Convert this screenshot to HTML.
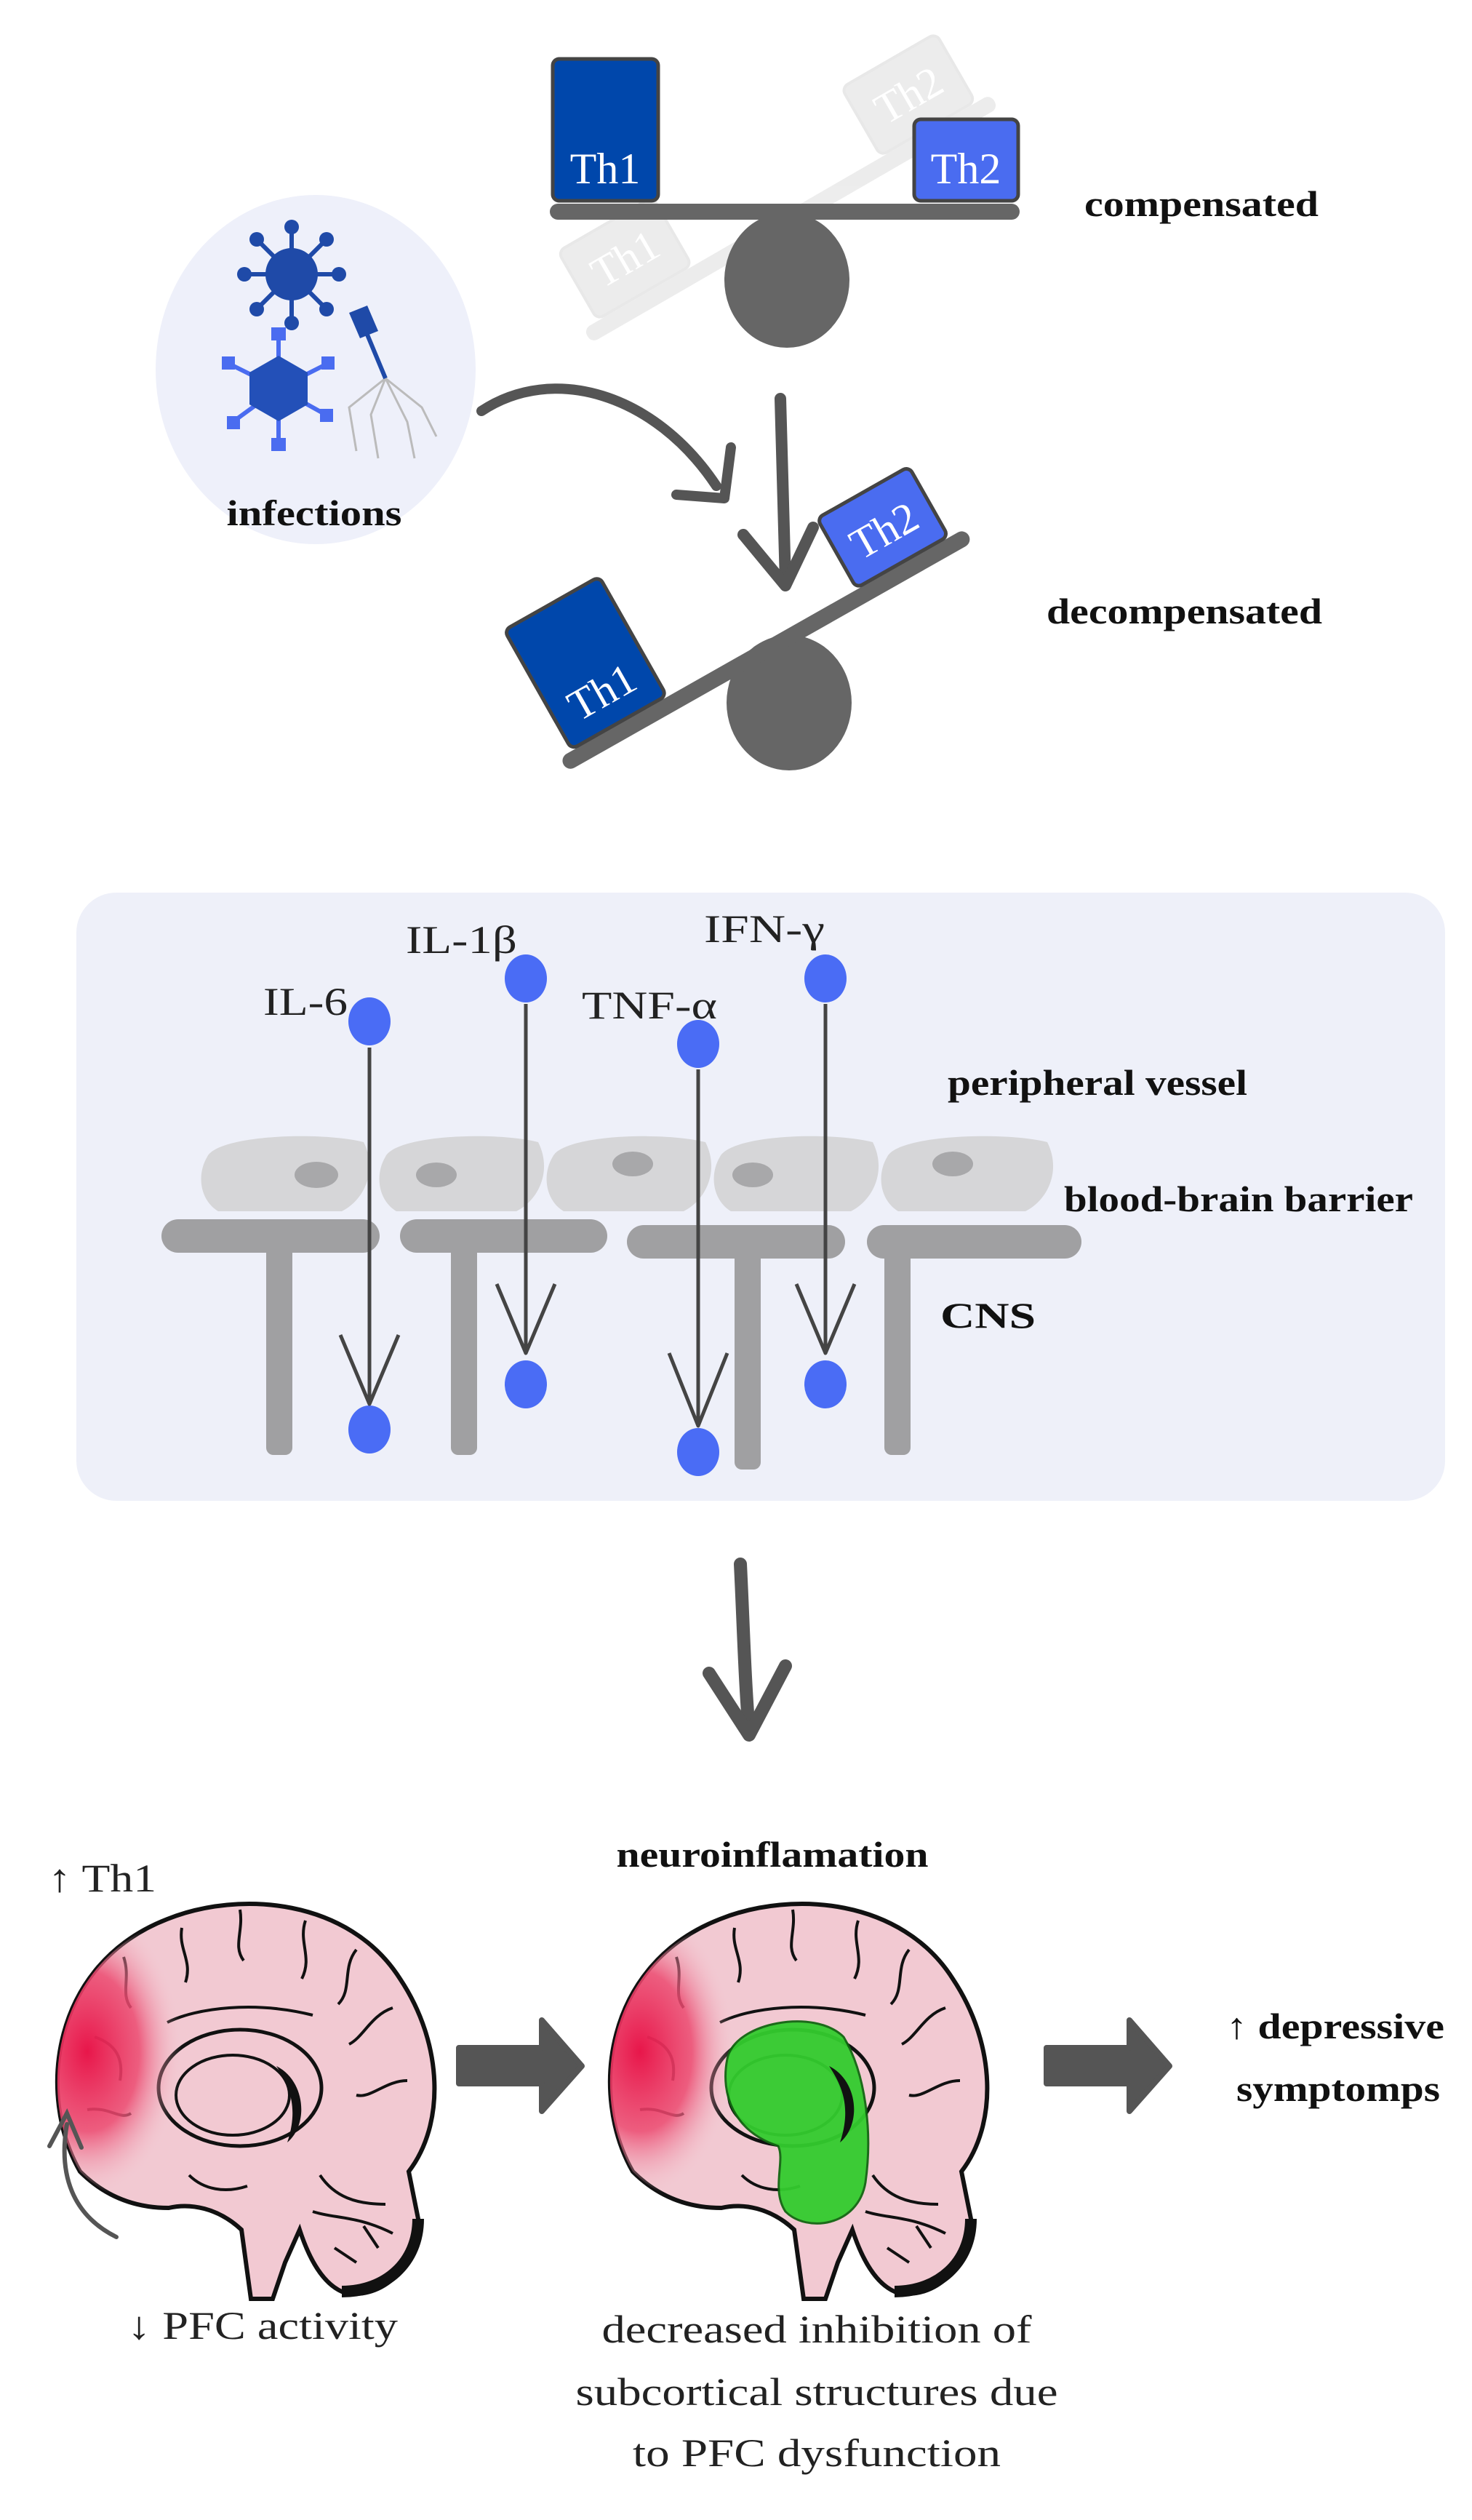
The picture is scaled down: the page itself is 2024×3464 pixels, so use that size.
<!DOCTYPE html>
<html><head><meta charset="utf-8"><style>
html,body{margin:0;padding:0;background:#fff}
svg{display:block}
.b{font-family:"Liberation Serif",serif;font-weight:bold;font-size:50px;fill:#111}
.r{font-family:"Liberation Serif",serif;font-size:54px;fill:#222}
.w{font-family:"Liberation Serif",serif;font-size:60px;fill:#fff}
</style></head><body>
<svg width="2024" height="3464" viewBox="0 0 2024 3464" xmlns="http://www.w3.org/2000/svg">
<defs>
<radialGradient id="red" cx="0.5" cy="0.5" r="0.5">
<stop offset="0" stop-color="#e8164a"/><stop offset="0.55" stop-color="#ec4a70" stop-opacity="0.85"/><stop offset="1" stop-color="#f2c9d2" stop-opacity="0"/>
</radialGradient>
<clipPath id="bc1"><path id="bp" d="M110,2985 C50,2880 70,2700 230,2638 C330,2598 480,2610 550,2720 C610,2810 612,2920 562,2985 L575,3050 C572,3120 525,3160 475,3152 C445,3142 425,3105 412,3065 L392,3110 L375,3160 L345,3160 L332,3065 C300,3035 262,3028 232,3035 C180,3035 140,3015 110,2985 Z"/></clipPath>
<clipPath id="bc2"><use href="#bp" transform="translate(760,0)"/></clipPath>
<g id="brain">
<use href="#bp" fill="#f2c9d2" stroke="#111" stroke-width="6"/>
<path d="M470,3150 C530,3150 575,3110 575,3050" fill="none" stroke="#111" stroke-width="16"/>
<ellipse cx="330" cy="2870" rx="112" ry="80" fill="none" stroke="#111" stroke-width="5"/>
<ellipse cx="320" cy="2880" rx="78" ry="55" fill="#f2c9d2" stroke="#111" stroke-width="4"/>
<path d="M380,2840 C420,2860 425,2920 395,2945 C410,2900 400,2870 380,2840 Z" fill="#111"/>
<g fill="none" stroke="#111" stroke-width="4">
<path d="M170,2690 c10,30 -5,50 10,70"/><path d="M250,2650 c-5,30 15,45 5,75"/><path d="M330,2625 c5,30 -10,50 5,70"/>
<path d="M420,2640 c-10,30 10,50 -5,80"/><path d="M490,2680 c-20,25 -5,55 -25,75"/><path d="M540,2760 c-30,10 -40,40 -60,50"/>
<path d="M560,2860 c-30,0 -50,25 -70,20"/><path d="M130,2800 c30,10 40,30 35,60"/><path d="M120,2900 c30,-5 45,15 60,5"/>
<path d="M230,2780 c40,-20 120,-30 200,-10"/><path d="M440,2990 c20,30 50,40 90,40"/><path d="M430,3040 c30,10 60,5 110,30"/>
<path d="M460,3090 l30,20 M500,3060 l20,30"/><path d="M260,2990 c20,20 50,25 80,15"/>
</g>
</g>
</defs>

<g transform="translate(1082,291) rotate(-30)" opacity="0.13" fill="#777">
<rect x="-323" y="0" width="646" height="22" rx="10"/>
<rect x="-300" y="-110" width="150" height="108" rx="10" stroke="#555" stroke-width="4"/>
<rect x="150" y="-110" width="150" height="108" rx="10" stroke="#555" stroke-width="4"/>
<text x="-225" y="-35" text-anchor="middle" class="w" style="fill:#fff">Th1</text>
<text x="225" y="-35" text-anchor="middle" class="w" style="fill:#fff">Th2</text>
</g>
<ellipse cx="1082" cy="385" rx="86" ry="93" fill="#666"/>
<rect x="756" y="280" width="646" height="22" rx="11" fill="#666"/>
<rect x="760" y="81" width="145" height="195" rx="9" fill="#0047ab" stroke="#444" stroke-width="5"/>
<text x="832" y="252" text-anchor="middle" class="w">Th1</text>
<rect x="1257" y="164" width="143" height="112" rx="9" fill="#4a6cf0" stroke="#444" stroke-width="5"/>
<text x="1328" y="252" text-anchor="middle" class="w">Th2</text>
<text x="1491" y="297" class="b" textLength="322" lengthAdjust="spacingAndGlyphs">compensated</text>

<ellipse cx="434" cy="508" rx="220" ry="240" fill="#eef0fa"/>
<g stroke="#1f4aa8" stroke-width="6" fill="none">
<line x1="401" y1="377" x2="401" y2="315"/><line x1="401" y1="377" x2="462" y2="377"/><line x1="401" y1="377" x2="340" y2="377"/><line x1="401" y1="377" x2="401" y2="440"/>
<line x1="401" y1="377" x2="446" y2="332"/><line x1="401" y1="377" x2="356" y2="332"/><line x1="401" y1="377" x2="446" y2="422"/><line x1="401" y1="377" x2="356" y2="422"/>
</g>
<g fill="#1f4aa8"><circle cx="401" cy="377" r="36"/><circle cx="401" cy="312" r="10"/><circle cx="466" cy="377" r="10"/><circle cx="336" cy="377" r="10"/><circle cx="401" cy="444" r="10"/><circle cx="449" cy="329" r="10"/><circle cx="353" cy="329" r="10"/><circle cx="449" cy="425" r="10"/><circle cx="353" cy="425" r="10"/></g>
<g stroke="#4a6cf0" stroke-width="6"><line x1="383" y1="534" x2="383" y2="460"/><line x1="383" y1="534" x2="383" y2="610"/><line x1="383" y1="534" x2="315" y2="500"/><line x1="383" y1="534" x2="450" y2="500"/><line x1="383" y1="534" x2="320" y2="580"/><line x1="383" y1="534" x2="448" y2="570"/></g>
<polygon points="383,489 423,512 423,556 383,579 343,556 343,512" fill="#2350b8"/>
<g fill="#4a6cf0"><rect x="373" y="450" width="20" height="18"/><rect x="373" y="602" width="20" height="18"/><rect x="305" y="490" width="18" height="18"/><rect x="442" y="490" width="18" height="18"/><rect x="312" y="572" width="18" height="18"/><rect x="440" y="562" width="18" height="18"/></g>
<g stroke="#bbb" stroke-width="3" fill="none"><path d="M530,520 L480,560 L490,620"/><path d="M530,520 L510,570 L520,630"/><path d="M530,520 L580,560 L600,600"/><path d="M530,520 L560,580 L570,630"/></g>
<polygon points="480,430 505,420 520,455 495,465" fill="#1f4aa8"/>
<line x1="505" y1="460" x2="530" y2="520" stroke="#1f4aa8" stroke-width="6"/>
<text x="432" y="722" text-anchor="middle" class="b" textLength="241" lengthAdjust="spacingAndGlyphs">infections</text>

<path d="M662,565 C760,500 900,540 985,668" fill="none" stroke="#555" stroke-width="14" stroke-linecap="round"/>
<path d="M930,680 L996,685 L1005,615" fill="none" stroke="#555" stroke-width="14" stroke-linecap="round" stroke-linejoin="round"/>
<line x1="1073" y1="548" x2="1080" y2="800" stroke="#555" stroke-width="16" stroke-linecap="round"/>
<path d="M1022,735 L1080,805 L1118,725" fill="none" stroke="#555" stroke-width="16" stroke-linecap="round" stroke-linejoin="round"/>

<ellipse cx="1085" cy="966" rx="86" ry="93" fill="#666"/>
<g transform="translate(1048,884) rotate(-29.5)">
<rect x="-320" y="0" width="640" height="22" rx="11" fill="#666"/>
<rect x="-300" y="-190" width="150" height="188" rx="9" fill="#0047ab" stroke="#444" stroke-width="5"/>
<text x="-225" y="-30" text-anchor="middle" class="w">Th1</text>
<rect x="150" y="-112" width="145" height="110" rx="9" fill="#4a6cf0" stroke="#444" stroke-width="5"/>
<text x="222" y="-32" text-anchor="middle" class="w">Th2</text>
</g>
<text x="1439" y="857" class="b" textLength="379" lengthAdjust="spacingAndGlyphs">decompensated</text>

<rect x="105" y="1227" width="1882" height="836" rx="55" fill="#eef0f9"/>
<g fill="#d6d6d8">
<path d="M285,1590 C300,1560 440,1555 500,1570 C520,1610 500,1650 470,1665 L300,1665 C275,1650 270,1615 285,1590Z"/>
<path d="M530,1590 C545,1560 680,1555 740,1570 C760,1610 740,1650 710,1665 L545,1665 C520,1650 515,1615 530,1590Z"/>
<path d="M760,1590 C775,1560 910,1555 970,1570 C990,1610 970,1650 940,1665 L775,1665 C750,1650 745,1615 760,1590Z"/>
<path d="M990,1590 C1005,1560 1140,1555 1200,1570 C1220,1610 1200,1650 1170,1665 L1005,1665 C980,1650 975,1615 990,1590Z"/>
<path d="M1220,1590 C1235,1560 1380,1555 1440,1570 C1460,1610 1440,1650 1410,1665 L1235,1665 C1210,1650 1205,1615 1220,1590Z"/>
</g>
<g fill="#a8a8aa"><ellipse cx="435" cy="1615" rx="30" ry="18"/><ellipse cx="600" cy="1615" rx="28" ry="17"/><ellipse cx="870" cy="1600" rx="28" ry="17"/><ellipse cx="1035" cy="1615" rx="28" ry="17"/><ellipse cx="1310" cy="1600" rx="28" ry="17"/></g>
<g fill="#a0a0a2">
<rect x="222" y="1676" width="300" height="46" rx="23"/><rect x="550" y="1676" width="285" height="46" rx="23"/>
<rect x="862" y="1684" width="300" height="46" rx="23"/><rect x="1192" y="1684" width="295" height="46" rx="23"/>
<rect x="366" y="1710" width="36" height="290" rx="10"/><rect x="620" y="1710" width="36" height="290" rx="10"/>
<rect x="1010" y="1710" width="36" height="310" rx="10"/><rect x="1216" y="1710" width="36" height="290" rx="10"/>
</g>
<g fill="#4a6cf5">
<ellipse cx="508" cy="1404" rx="29" ry="33"/><ellipse cx="723" cy="1345" rx="29" ry="33"/><ellipse cx="960" cy="1435" rx="29" ry="33"/><ellipse cx="1135" cy="1345" rx="29" ry="33"/>
<ellipse cx="508" cy="1965" rx="29" ry="33"/><ellipse cx="723" cy="1903" rx="29" ry="33"/><ellipse cx="960" cy="1996" rx="29" ry="33"/><ellipse cx="1135" cy="1903" rx="29" ry="33"/>
</g>
<g stroke="#444" stroke-width="5" fill="none" stroke-linejoin="round">
<line x1="508" y1="1440" x2="508" y2="1930"/><path d="M468,1835 L508,1930 L548,1835"/>
<line x1="723" y1="1380" x2="723" y2="1860"/><path d="M683,1765 L723,1860 L763,1765"/>
<line x1="960" y1="1470" x2="960" y2="1960"/><path d="M920,1860 L960,1960 L1000,1860"/>
<line x1="1135" y1="1380" x2="1135" y2="1860"/><path d="M1095,1765 L1135,1860 L1175,1765"/>
</g>
<text x="362" y="1395" class="r" textLength="116" lengthAdjust="spacingAndGlyphs">IL-6</text>
<text x="558" y="1310" class="r" textLength="153" lengthAdjust="spacingAndGlyphs">IL-1β</text>
<text x="800" y="1400" class="r" textLength="186" lengthAdjust="spacingAndGlyphs">TNF-α</text>
<text x="968" y="1295" class="r" textLength="166" lengthAdjust="spacingAndGlyphs">IFN-γ</text>
<text x="1303" y="1505" class="b" textLength="412" lengthAdjust="spacingAndGlyphs">peripheral vessel</text>
<text x="1463" y="1665" class="b" textLength="480" lengthAdjust="spacingAndGlyphs">blood-brain barrier</text>
<text x="1293" y="1825" class="b" textLength="131" lengthAdjust="spacingAndGlyphs">CNS</text>

<path d="M1018,2150 C1022,2230 1024,2310 1030,2380" fill="none" stroke="#555" stroke-width="18" stroke-linecap="round"/>
<path d="M975,2300 L1030,2385 L1080,2290" fill="none" stroke="#555" stroke-width="18" stroke-linecap="round" stroke-linejoin="round"/>

<use href="#brain"/>
<g clip-path="url(#bc1)"><ellipse cx="120" cy="2820" rx="130" ry="200" fill="url(#red)"/></g>
<use href="#brain" transform="translate(760,0)"/>
<g clip-path="url(#bc2)"><ellipse cx="880" cy="2820" rx="130" ry="200" fill="url(#red)"/></g>
<path d="M1000,2830 C1010,2780 1120,2760 1160,2800 C1190,2850 1200,2930 1190,3000 C1180,3060 1110,3070 1080,3040 C1060,3010 1080,2970 1070,2950 C1010,2930 990,2880 1000,2830Z" fill="#33cc2e" stroke="#116611" stroke-width="3" opacity="0.95"/>
<path d="M1140,2840 C1180,2860 1185,2920 1155,2945 C1170,2900 1160,2870 1140,2840 Z" fill="#111"/>

<path d="M631,2815 L745,2815 L745,2777 L800,2840 L745,2902 L745,2864 L631,2864 Z" fill="#555" stroke="#555" stroke-width="8" stroke-linejoin="round"/>
<path d="M1439,2815 L1553,2815 L1553,2777 L1608,2840 L1553,2902 L1553,2864 L1439,2864 Z" fill="#555" stroke="#555" stroke-width="8" stroke-linejoin="round"/>

<path d="M160,3075 C100,3045 80,2990 92,2920" fill="none" stroke="#555" stroke-width="6" stroke-linecap="round"/>
<path d="M68,2950 L92,2905 L112,2952" fill="none" stroke="#555" stroke-width="6" stroke-linecap="round"/>

<text x="66" y="2600" class="r" textLength="149" lengthAdjust="spacingAndGlyphs">↑ Th1</text>
<text x="1062" y="2566" text-anchor="middle" class="b" textLength="429" lengthAdjust="spacingAndGlyphs">neuroinflamation</text>
<text x="1686" y="2802" class="b" textLength="300" lengthAdjust="spacingAndGlyphs">↑ depressive</text>
<text x="1840" y="2888" text-anchor="middle" class="b" textLength="280" lengthAdjust="spacingAndGlyphs">symptomps</text>
<text x="175" y="3215" class="r" textLength="372" lengthAdjust="spacingAndGlyphs">↓ PFC activity</text>
<text x="1123" y="3220" text-anchor="middle" class="r" textLength="591" lengthAdjust="spacingAndGlyphs">decreased inhibition of</text>
<text x="1123" y="3306" text-anchor="middle" class="r" textLength="663" lengthAdjust="spacingAndGlyphs">subcortical structures due</text>
<text x="1123" y="3390" text-anchor="middle" class="r" textLength="506" lengthAdjust="spacingAndGlyphs">to PFC dysfunction</text>
</svg>
</body></html>
